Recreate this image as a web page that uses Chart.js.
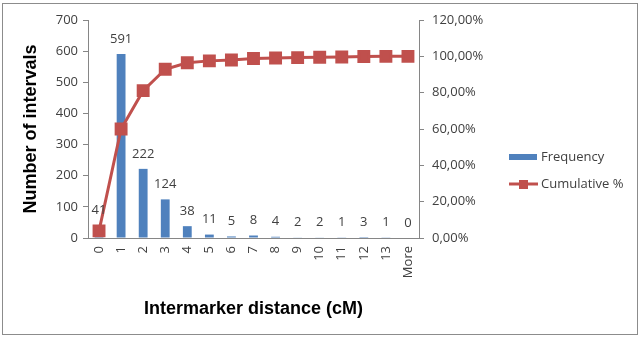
<!DOCTYPE html>
<html>
<head>
<meta charset="utf-8">
<script src="https://cdn.jsdelivr.net/npm/chart.js@4"></script>
<style>
    html, body { margin: 0; padding: 0; background: #fff; }
    #wrap { width: 640px; height: 337px; position: relative; }
</style>
</head>
<body>
<div id="wrap"><canvas id="histChart" width="640" height="337"></canvas></div>
<script>
// Dữ liệu biểu đồ
const categories = ['0', '1', '2', '3', '4', '5', '6', '7', '8', '9', '10', '11', '12', '13', 'More'];
const frequency = [41, 591, 222, 124, 38, 11, 5, 8, 4, 2, 2, 1, 3, 1, 0];
const cumulative = [3.9, 60.0, 81.1, 92.9, 96.5, 97.5, 98.0, 98.8, 99.1, 99.3, 99.5, 99.6, 99.9, 100, 100];
const leftTicks = [0, 100, 200, 300, 400, 500, 600, 700];
const rightTicks = [0, 20, 40, 60, 80, 100, 120];

const BLUE = '#4F81BD';
const RED = '#C0504D';
const TEXT = '#404040';
const AXIS = '#868686';
const tickFont = { family: 'Open Sans', size: 13 };
const titleFont = { family: 'Liberation Sans', size: 18, weight: 'bold' };

// Nhãn giá trị trên cột
const barLabels = {
    id: 'barLabels',
    afterDatasetsDraw(chart) {
        const ctx = chart.ctx;
        const meta = chart.getDatasetMeta(1);
        ctx.save();
        ctx.font = '13px "Open Sans"';
        ctx.fillStyle = TEXT;
        ctx.textAlign = 'center';
        ctx.textBaseline = 'middle';
        meta.data.forEach((bar, i) => {
            ctx.fillText(String(frequency[i]), bar.x, bar.y - 15);
        });
        ctx.restore();
    }
};

// Khung viền và chú thích
const frameLegend = {
    id: 'frameLegend',
    afterDraw(chart) {
        const ctx = chart.ctx;
        ctx.save();
        ctx.strokeStyle = '#8c8c8c';
        ctx.lineWidth = 1;
        ctx.strokeRect(2.5, 3.5, 635, 331);

        ctx.fillStyle = BLUE;
        ctx.fillRect(509, 154, 28, 6);

        ctx.strokeStyle = RED;
        ctx.lineWidth = 3;
        ctx.beginPath();
        ctx.moveTo(509, 184);
        ctx.lineTo(538, 184);
        ctx.stroke();
        ctx.fillStyle = RED;
        ctx.fillRect(519, 180, 9, 9);

        ctx.font = '13px "Open Sans"';
        ctx.fillStyle = TEXT;
        ctx.textAlign = 'left';
        ctx.textBaseline = 'middle';
        ctx.fillText('Frequency', 541, 157);
        ctx.fillText('Cumulative %', 541, 184);
        ctx.restore();
    }
};

function initChart() {
    const ctx = document.getElementById('histChart').getContext('2d');
    new Chart(ctx, {
        data: {
            labels: categories,
            datasets: [
                {
                    type: 'line',
                    label: 'Cumulative %',
                    data: cumulative,
                    yAxisID: 'y1',
                    borderColor: RED,
                    backgroundColor: RED,
                    borderWidth: 3,
                    pointStyle: 'rect',
                    pointRadius: 7,
                    pointHoverRadius: 7,
                    tension: 0,
                    order: 0
                },
                {
                    type: 'bar',
                    label: 'Frequency',
                    data: frequency,
                    yAxisID: 'y',
                    backgroundColor: BLUE,
                    barPercentage: 0.4,
                    categoryPercentage: 1,
                    order: 1
                }
            ]
        },
        options: {
            responsive: false,
            animation: false,
            layout: { padding: { left: 16, top: 20, right: 0, bottom: 13 } },
            plugins: {
                legend: { display: false },
                tooltip: { enabled: false }
            },
            scales: {
                x: {
                    grid: { display: false, drawTicks: true, tickLength: 5, color: AXIS },
                    border: { color: AXIS },
                    ticks: { color: TEXT, font: tickFont, minRotation: 90, maxRotation: 90, padding: 3 },
                    title: {
                        display: true,
                        text: 'Intermarker distance (cM)',
                        color: '#000',
                        font: titleFont
                    },
                    afterFit(scale) { scale.height = 86; }
                },
                y: {
                    position: 'left',
                    min: 0,
                    max: 700,
                    afterBuildTicks(scale) { scale.ticks = leftTicks.map(v => ({ value: v })); },
                    grid: { drawOnChartArea: false, tickLength: 5, color: AXIS },
                    border: { color: AXIS },
                    ticks: { color: TEXT, font: tickFont, padding: 5 },
                    title: {
                        display: true,
                        text: 'Number of intervals',
                        color: '#000',
                        font: titleFont
                    },
                    afterFit(scale) { scale.width = 72; }
                },
                y1: {
                    position: 'right',
                    min: 0,
                    max: 120,
                    afterBuildTicks(scale) { scale.ticks = rightTicks.map(v => ({ value: v })); },
                    grid: { drawOnChartArea: false, tickLength: 5, color: AXIS },
                    border: { color: AXIS },
                    ticks: {
                        color: TEXT,
                        font: tickFont,
                        padding: 8,
                        callback: v => v.toFixed(2).replace('.', ',') + '%'
                    },
                    afterFit(scale) { scale.width = 221; }
                }
            }
        },
        plugins: [barLabels, frameLegend]
    });
}

document.addEventListener('DOMContentLoaded', initChart);
</script>
</body>
</html>
